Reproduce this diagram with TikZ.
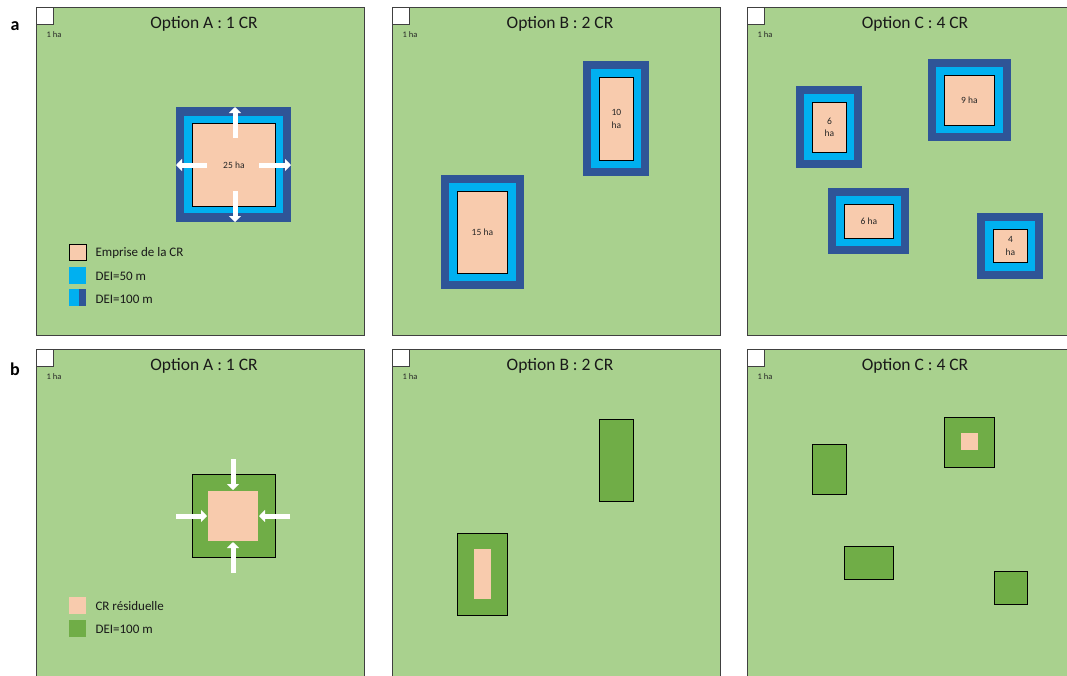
\documentclass[tikz,border=0pt]{standalone}
\usepackage{fontspec}
\setmainfont{Carlito}
\usetikzlibrary{arrows.meta}
\definecolor{lgreen}{HTML}{A9D18E}
\definecolor{dgreen}{HTML}{70AD47}
\definecolor{dblue}{HTML}{2F5597}
\definecolor{lblue}{HTML}{00B0F0}
\definecolor{peach}{HTML}{F8CBAD}
\newcommand\rbox[7]{\node[#6, rectangle, inner sep=0pt, anchor=north west,
  minimum width={(#4-#2)*1pt}, minimum height={(#5-#3)*1pt}, align=center] (#1) at (#2,#3) {#7};}
\tikzset{
  panel/.style={fill=lgreen, draw=black!75, line width=1pt},
  unitsq/.style={fill=white, draw=black!75, line width=0.8pt},
  dei100/.style={fill=dblue},
  dei50/.style={fill=lblue},
  cr/.style={fill=peach, draw=black, line width=0.8pt, font=\fontsize{9.5}{12.5}\selectfont, text=black!85},
  crres/.style={fill=peach},
  buffer/.style={fill=dgreen, draw=black, line width=0.8pt},
  wa/.style={draw=white, line width=5pt, -{Triangle[width=12pt,length=6pt]}},
  title/.style={font=\fontsize{17.5}{20}\selectfont, text=black!90},
  halabel/.style={font=\fontsize{8.5}{9}\selectfont, text=black!85},
  legtext/.style={font=\fontsize{13}{15}\selectfont, anchor=west, text=black!90},
  panellabel/.style={font=\fontsize{18}{20}\selectfont\bfseries}
}
\begin{document}
\begin{tikzpicture}[x=1pt,y=-1pt]
\useasboundingbox (0,0) rectangle (1067,675);
\clip (0,0) rectangle (1067,675);
% ---------- panels ----------
\rbox{pA1}{36}{7}{364}{335}{panel}{}
\rbox{pB1}{392}{7}{720}{335}{panel}{}
\rbox{pC1}{747}{7}{1076}{335}{panel}{}
\rbox{pA2}{36}{349}{364}{690}{panel}{}
\rbox{pB2}{392}{349}{720}{690}{panel}{}
\rbox{pC2}{747}{349}{1076}{690}{panel}{}
% unit squares and labels
\foreach \n/\x/\y in {uA1/36/7, uB1/392/7, uC1/747/7, uA2/36/349, uB2/392/349, uC2/747/349}{
  \rbox{\n}{\x}{\y}{\x+17}{\y+17}{unitsq}{}
  \node[halabel] (\n l) at (\x+18,\y+28) {1 ha};
}
% titles
\node[title] (tA1) at (204,24) {Option A : 1 CR};
\node[title] (tB1) at (560,24) {Option B : 2 CR};
\node[title] (tC1) at (915,24) {Option C : 4 CR};
\node[title] (tA2) at (204,366) {Option A : 1 CR};
\node[title] (tB2) at (560,366) {Option B : 2 CR};
\node[title] (tC2) at (915,366) {Option C : 4 CR};
\node[panellabel] (la) at (15,26) {a};
\node[panellabel] (lb) at (15,369) {b};
% ---------- row a ----------
% Option A
\rbox{a25o}{176}{107}{291}{222}{dei100}{}
\rbox{a25m}{184}{116}{283}{213}{dei50}{}
\rbox{a25}{192}{123}{275}{206}{cr}{25 ha}
\coordinate (u1) at (235,138); \coordinate (u2) at (235,107);
\coordinate (d1) at (235,191); \coordinate (d2) at (235,222);
\coordinate (l1) at (207,165); \coordinate (l2) at (176,165);
\coordinate (r1) at (259,165); \coordinate (r2) at (291,165);
\draw[wa] (u1) -- (u2);
\draw[wa] (d1) -- (d2);
\draw[wa] (l1) -- (l2);
\draw[wa] (r1) -- (r2);
% legend a
\rbox{lg1}{69}{244}{86}{260}{cr}{}
\node[legtext] (lt1) at (92,253) {Emprise de la CR};
\rbox{lg2}{69}{267}{86}{284}{dei50}{}
\node[legtext] (lt2) at (92,276) {DEI=50 m};
\rbox{lg3}{69}{289}{79}{306}{dei50}{}
\rbox{lg3b}{79}{289}{86}{306}{dei100}{}
\node[legtext] (lt3) at (92,299) {DEI=100 m};
% Option B
\rbox{b10o}{583}{61}{649}{176}{dei100}{}
\rbox{b10m}{591}{69}{641}{168}{dei50}{}
\rbox{b10}{599}{77}{633}{160}{cr}{10\\ha}
\rbox{b15o}{441}{175}{524}{289}{dei100}{}
\rbox{b15m}{449}{183}{516}{281}{dei50}{}
\rbox{b15}{457}{191}{507}{273}{cr}{15 ha}
% Option C
\rbox{c6vo}{796}{86}{862}{168}{dei100}{}
\rbox{c6vm}{804}{94}{854}{160}{dei50}{}
\rbox{c6v}{812}{102}{846}{152}{cr}{6\\ha}
\rbox{c9o}{928}{59}{1011}{141}{dei100}{}
\rbox{c9m}{936}{67}{1003}{133}{dei50}{}
\rbox{c9}{944}{75}{994}{125}{cr}{9 ha}
\rbox{c6ho}{828}{188}{909}{254}{dei100}{}
\rbox{c6hm}{836}{196}{901}{246}{dei50}{}
\rbox{c6h}{844}{204}{893}{238}{cr}{6 ha}
\rbox{c4o}{977}{213}{1043}{279}{dei100}{}
\rbox{c4m}{985}{221}{1035}{271}{dei50}{}
\rbox{c4}{993}{229}{1027}{262}{cr}{4\\ha}
% ---------- row b ----------
\rbox{A2buf}{192}{474}{275}{557}{buffer}{}
\rbox{A2res}{208}{491}{258}{541}{crres}{}
\coordinate (bu1) at (233,459); \coordinate (bu2) at (233,490);
\coordinate (bd1) at (233,573); \coordinate (bd2) at (233,542);
\coordinate (bl1) at (176,516); \coordinate (bl2) at (207,516);
\coordinate (br1) at (290,516); \coordinate (br2) at (259,516);
\draw[wa] (bu1) -- (bu2);
\draw[wa] (bd1) -- (bd2);
\draw[wa] (bl1) -- (bl2);
\draw[wa] (br1) -- (br2);
% legend b
\rbox{lg4}{69}{597}{86}{614}{crres}{}
\node[legtext] (lt4) at (92,606) {CR résiduelle};
\rbox{lg5}{69}{620}{86}{637}{fill=dgreen}{}
\node[legtext] (lt5) at (92,629) {DEI=100 m};
% Option B
\rbox{B2a}{599}{419}{633}{501}{buffer}{}
\rbox{B2b}{457}{533}{507}{615}{buffer}{}
\rbox{B2bres}{474}{549}{491}{599}{crres}{}
% Option C
\rbox{C2a}{812}{444}{846}{494}{buffer}{}
\rbox{C2b}{944}{417}{994}{467}{buffer}{}
\rbox{C2bres}{961}{433}{978}{450}{crres}{}
\rbox{C2c}{844}{546}{893}{579}{buffer}{}
\rbox{C2d}{994}{571}{1027}{604}{buffer}{}
\end{tikzpicture}
\end{document}
